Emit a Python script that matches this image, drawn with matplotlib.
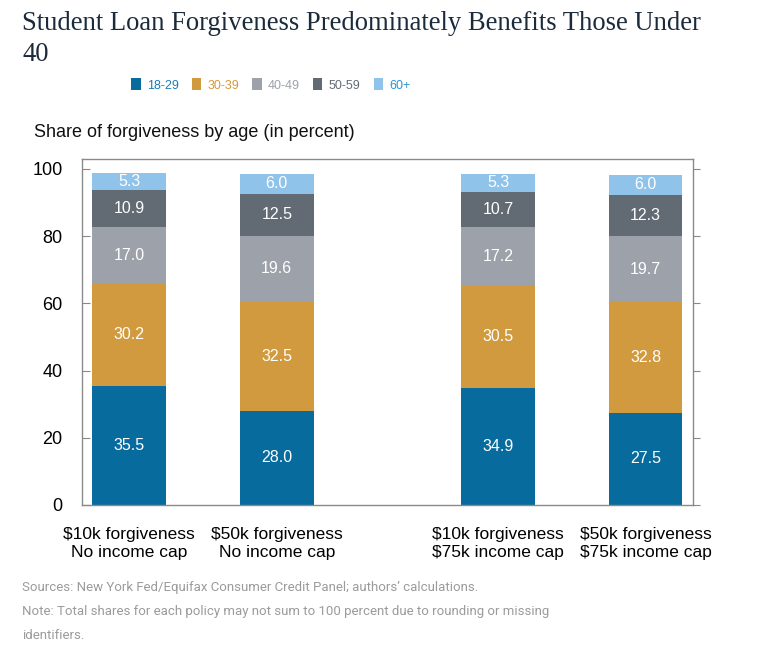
import numpy as np
import matplotlib.pyplot as plt
from matplotlib.patches import Patch

# data
policies = ["$10k forgiveness\nNo income cap", "$50k forgiveness\nNo income cap",
            "$10k forgiveness\n$75k income cap", "$50k forgiveness\n$75k income cap"]
age_groups = ["18-29", "30-39", "40-49", "50-59", "60+"]
share_18_29 = [35.5, 28.0, 34.9, 27.5]
share_30_39 = [30.2, 32.5, 30.5, 32.8]
share_40_49 = [17.0, 19.6, 17.2, 19.7]
share_50_59 = [10.9, 12.5, 10.7, 12.3]
share_60_up = [5.3, 6.0, 5.3, 6.0]

shares = [share_18_29, share_30_39, share_40_49, share_50_59, share_60_up]
colors = ["#076b9d", "#d29a3e", "#9da1a9", "#626b74", "#8fc3ea"]
text_colors = ["#1a7db3", "#d29a3e", "#9da1a9", "#626b74", "#2a93d0"]

x = np.array([0, 1, 2.5, 3.5])

plt.rcParams['font.family'] = ['Liberation Sans', 'DejaVu Sans']

fig = plt.figure(figsize=(7.63, 6.54), dpi=100)
ax = fig.add_axes([0.1075, 0.228, 0.8005, 0.529])

bottom = np.zeros(len(x))
for i, vals in enumerate(shares):
    vals = np.array(vals)
    ax.bar(x, vals, width=0.5, bottom=bottom, color=colors[i], zorder=2)
    for xi, b, v in zip(x, bottom, vals):
        ax.text(xi, b + v / 2, f"{v:.1f}", ha='center', va='center',
                color='white', fontsize=11.5, zorder=3)
    bottom = bottom + vals

ax.set_xlim(-0.32, 3.82)
ax.set_ylim(0, 103)
ax.set_yticks([0, 20, 40, 60, 80, 100])
ax.set_xticks(x)
ax.set_xticklabels(policies, fontsize=12.5, linespacing=1.2)
ax.tick_params(axis='y', direction='in', length=6, color='#888888', labelsize=13, pad=14)
ax.tick_params(axis='x', direction='in', length=5, color='#222222', width=1.2, pad=16)
for s in ax.spines.values():
    s.set_color('#8a8a8a')
    s.set_linewidth(1)

# right side ticks point outward
ax2 = ax.twinx()
ax2.set_ylim(ax.get_ylim())
ax2.set_yticks([0, 20, 40, 60, 80, 100])
ax2.tick_params(axis='y', direction='out', length=5, color='#888888', labelright=False)
for s in ax2.spines.values():
    s.set_visible(False)

fig.text(0.029, 0.983, "Student Loan Forgiveness Predominately Benefits Those Under\n40",
         fontsize=19.2, family=['Liberation Serif'], color='#1c2b3c', va='top', linespacing=1.32)

handles = [Patch(facecolor=c) for c in colors]
fig.legend(handles, age_groups, loc='center', bbox_to_anchor=(0.355, 0.870), ncol=5,
           frameon=False, fontsize=9, handlelength=0.75, handleheight=1.1,
           handletextpad=0.5, columnspacing=1.05, labelcolor=text_colors)

fig.text(0.044, 0.797, "Share of forgiveness by age (in percent)", fontsize=13,
         color='#111111', va='center')

foot = ("Sources: New York Fed/Equifax Consumer Credit Panel; authors\u2019 calculations.\n"
        "Note: Total shares for each policy may not sum to 100 percent due to rounding or missing\n"
        "identifiers.")
fig.text(0.029, 0.112, foot, fontsize=9.5, color='#9b9b9b', va='top', linespacing=2.1,
         family=['Roboto'])

plt.savefig('out.png', dpi=100)
